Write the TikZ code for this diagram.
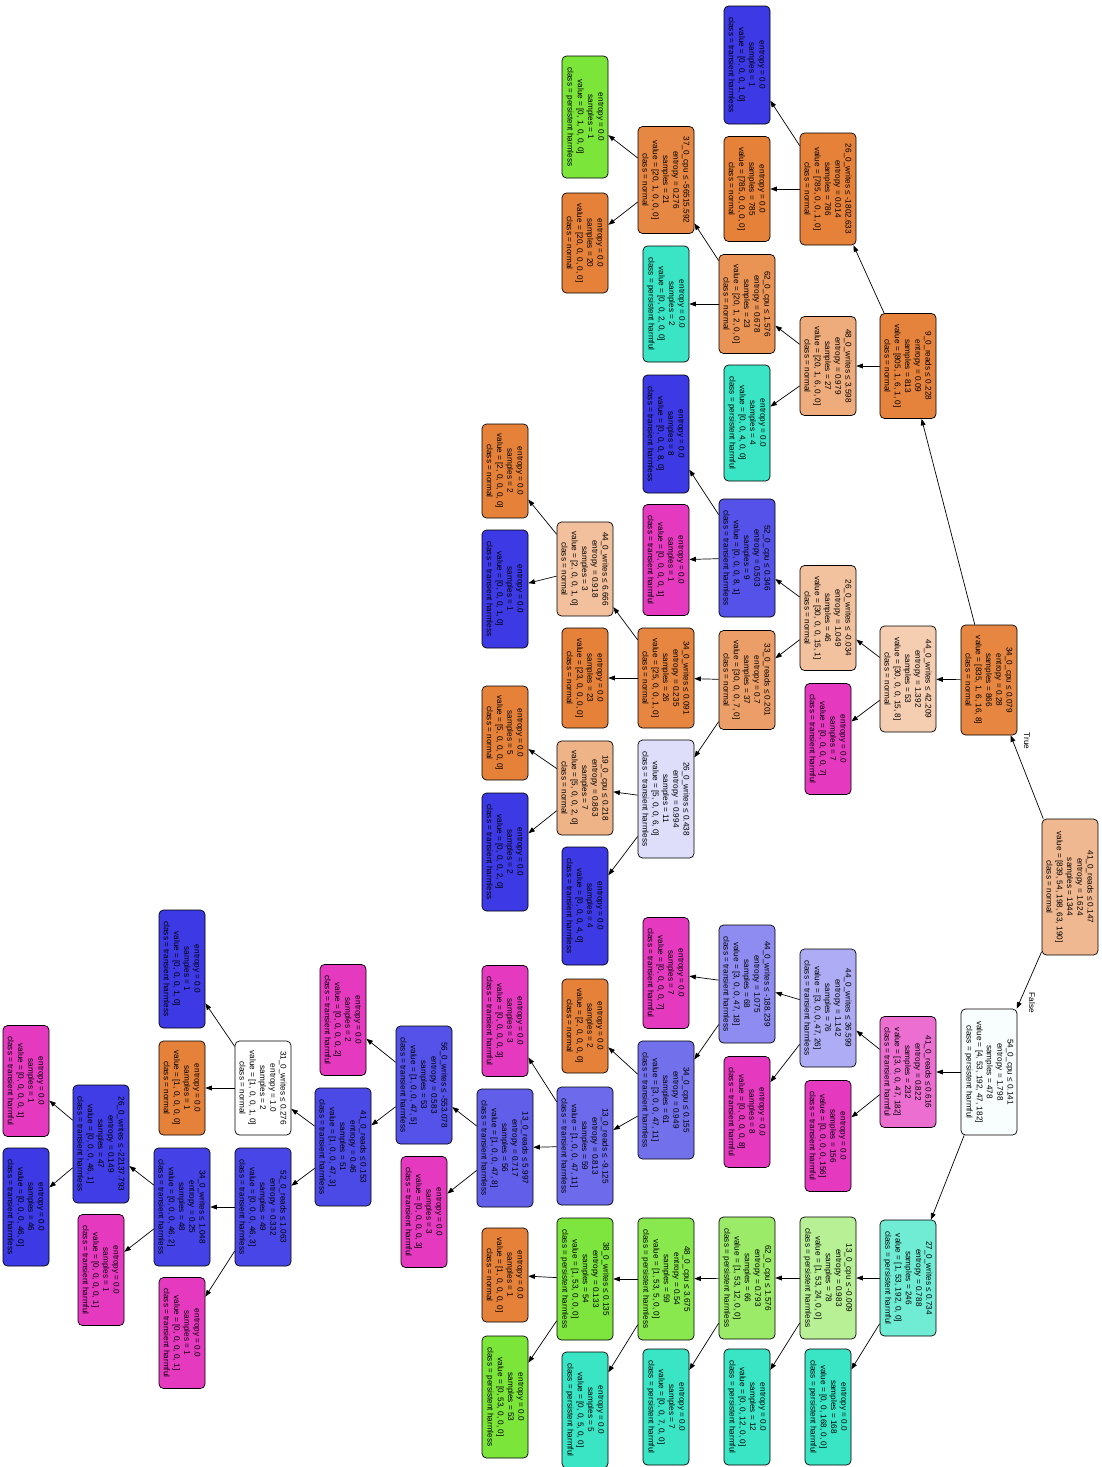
\documentclass[tikz,border=0pt]{standalone}
\usepackage{fontspec}
\newfontfamily\treefont{Liberation Sans}
\usetikzlibrary{arrows.meta}
\definecolor{cN}{RGB}{229,129,57}
\definecolor{cG}{RGB}{123,229,57}
\definecolor{cT}{RGB}{57,229,197}
\definecolor{cB}{RGB}{60,57,229}
\definecolor{cM}{RGB}{229,57,192}
\definecolor{s0}{RGB}{240,184,144}
\definecolor{s1}{RGB}{230,134,64}
\definecolor{s2}{RGB}{248,254,253}
\definecolor{s3}{RGB}{229,130,59}
\definecolor{s4}{RGB}{245,205,177}
\definecolor{s5}{RGB}{236,110,209}
\definecolor{s6}{RGB}{112,236,213}
\definecolor{s7}{RGB}{229,129,57}
\definecolor{s8}{RGB}{238,171,123}
\definecolor{s9}{RGB}{242,194,159}
\definecolor{s11}{RGB}{173,172,244}
\definecolor{s13}{RGB}{184,241,149}
\definecolor{s17}{RGB}{233,147,85}
\definecolor{s19}{RGB}{84,82,232}
\definecolor{s20}{RGB}{235,158,103}
\definecolor{s21}{RGB}{142,140,240}
\definecolor{s23}{RGB}{155,235,105}
\definecolor{s25}{RGB}{230,135,67}
\definecolor{s29}{RGB}{230,134,65}
\definecolor{s30}{RGB}{222,222,251}
\definecolor{s32}{RGB}{115,112,236}
\definecolor{s33}{RGB}{138,232,79}
\definecolor{s37}{RGB}{242,192,156}
\definecolor{s39}{RGB}{239,179,136}
\definecolor{s42}{RGB}{109,106,236}
\definecolor{s43}{RGB}{125,229,61}
\definecolor{s50}{RGB}{97,94,234}
\definecolor{s53}{RGB}{84,82,232}
\definecolor{s56}{RGB}{76,74,231}
\definecolor{s57}{RGB}{255,255,255}
\definecolor{s58}{RGB}{73,70,231}
\definecolor{s61}{RGB}{68,66,230}
\definecolor{s63}{RGB}{64,61,230}
\newcommand{\mksplit}[6]{\node[tn, minimum width=#4pt, fill=#5] (#1) at (#2,#3) {#6};}
\newcommand{\mkleaf}[6]{\node[tl, minimum width=#4pt, fill=#5] (#1) at (#2,#3) {entropy = 0.0\\#6};}
\tikzset{
  tn/.style={draw=black, line width=0.7pt, rounded corners=4.5pt, rotate=-90,
    inner sep=0pt, align=center, minimum height=56pt,
    font={\treefont\fontsize{8.2}{10.25}\selectfont}},
  tl/.style={tn, minimum height=46pt},
  edge/.style={-{Triangle[length=6.5pt,width=4.8pt]}, line width=0.7pt, black},
  elab/.style={rotate=-90, font={\treefont\fontsize{8.2}{10.25}\selectfont}, inner sep=0pt}
}
\begin{document}
\begin{tikzpicture}[x=1pt,y=-1pt]
\fill[white] (0,0) rectangle (1102,1467);
\useasboundingbox (0,0) rectangle (1102,1467);
% depth 0
\mksplit{n0}{1070}{887}{136}{s0}{41\_0\_reads ≤ 0.147\\entropy = 1.624\\samples = 1344\\value = [839, 54, 198, 63, 190]\\class = normal}
% depth 1
\mksplit{n1}{989}{680}{110}{s1}{34\_0\_cpu ≤ 0.079\\entropy = 0.28\\samples = 866\\value = [835, 1, 6, 16, 8]\\class = normal}
\mksplit{n2}{989}{1072}{126}{s2}{54\_0\_cpu ≤ 0.141\\entropy = 1.798\\samples = 478\\value = [4, 53, 192, 47, 182]\\class = persistent harmful}
% depth 2
\mksplit{n3}{908}{366}{105}{s3}{9\_0\_reads ≤ 0.228\\entropy = 0.09\\samples = 813\\value = [805, 1, 6, 1, 0]\\class = normal}
\mksplit{n4}{908}{679}{106}{s4}{44\_0\_writes ≤ 42.209\\entropy = 1.392\\samples = 53\\value = [30, 0, 0, 15, 8]\\class = normal}
\mksplit{n5}{908}{1072}{111}{s5}{41\_0\_reads ≤ 0.616\\entropy = 0.822\\samples = 232\\value = [3, 0, 0, 47, 182]\\class = transient harmful}
\mksplit{n6}{908}{1278}{116}{s6}{27\_0\_writes ≤ 0.734\\entropy = 0.788\\samples = 246\\value = [1, 53, 192, 0, 0]\\class = persistent harmful}
% depth 3
\mksplit{n7}{828}{189}{112}{s7}{26\_0\_writes ≤ -1802.633\\entropy = 0.014\\samples = 786\\value = [785, 0, 0, 1, 0]\\class = normal}
\mksplit{n8}{828}{366}{99}{s8}{48\_0\_writes ≤ 3.598\\entropy = 0.979\\samples = 27\\value = [20, 1, 6, 0, 0]\\class = normal}
\mksplit{n9}{828}{618}{105}{s9}{26\_0\_writes ≤ -0.034\\entropy = 1.049\\samples = 46\\value = [30, 0, 0, 15, 1]\\class = normal}
\mkleaf{n10}{828}{739}{111}{cM}{samples = 7\\value = [0, 0, 0, 0, 7]\\class = transient harmful}
\mksplit{n11}{828}{1008}{118}{s11}{44\_0\_writes ≤ 36.599\\entropy = 1.142\\samples = 76\\value = [3, 0, 0, 47, 26]\\class = transient harmless}
\mkleaf{n12}{828}{1136}{111}{cM}{samples = 156\\value = [0, 0, 0, 0, 156]\\class = transient harmful}
\mksplit{n13}{828}{1278}{122}{s13}{13\_0\_cpu ≤ -0.009\\entropy = 0.983\\samples = 78\\value = [1, 53, 24, 0, 0]\\class = persistent harmless}
\mkleaf{n14}{828}{1407}{116}{cT}{samples = 168\\value = [0, 0, 168, 0, 0]\\class = persistent harmful}
% depth 4
\mkleaf{n15}{747}{65}{118}{cB}{samples = 1\\value = [0, 0, 0, 1, 0]\\class = transient harmless}
\mkleaf{n16}{747}{189}{105}{cN}{samples = 785\\value = [785, 0, 0, 0, 0]\\class = normal}
\mksplit{n17}{747}{304}{99}{s17}{62\_0\_cpu ≤ 1.576\\entropy = 0.678\\samples = 23\\value = [20, 1, 2, 0, 0]\\class = normal}
\mkleaf{n18}{747}{423}{116}{cT}{samples = 4\\value = [0, 0, 4, 0, 0]\\class = persistent harmful}
\mksplit{n19}{747}{558}{118}{s19}{52\_0\_cpu ≤ 0.346\\entropy = 0.503\\samples = 9\\value = [0, 0, 0, 8, 1]\\class = transient harmless}
\mksplit{n20}{747}{680}{99}{s20}{33\_0\_reads ≤ 0.201\\entropy = 0.7\\samples = 37\\value = [30, 0, 0, 7, 0]\\class = normal}
\mksplit{n21}{747}{984}{118}{s21}{44\_0\_writes ≤ -188.239\\entropy = 1.075\\samples = 68\\value = [3, 0, 0, 47, 18]\\class = transient harmless}
\mkleaf{n22}{747}{1112}{111}{cM}{samples = 8\\value = [0, 0, 0, 0, 8]\\class = transient harmful}
\mksplit{n23}{747}{1278}{122}{s23}{62\_0\_cpu ≤ 1.576\\entropy = 0.793\\samples = 66\\value = [1, 53, 12, 0, 0]\\class = persistent harmless}
\mkleaf{n24}{747}{1407}{116}{cT}{samples = 12\\value = [0, 0, 12, 0, 0]\\class = persistent harmful}
% depth 5
\mksplit{n25}{666}{180}{107}{s25}{37\_0\_cpu ≤ -56515.592\\entropy = 0.276\\samples = 21\\value = [20, 1, 0, 0, 0]\\class = normal}
\mkleaf{n26}{666}{304}{116}{cT}{samples = 2\\value = [0, 0, 2, 0, 0]\\class = persistent harmful}
\mkleaf{n27}{666}{434}{118}{cB}{samples = 8\\value = [0, 0, 0, 8, 0]\\class = transient harmless}
\mkleaf{n28}{666}{560}{111}{cM}{samples = 1\\value = [0, 0, 0, 0, 1]\\class = transient harmful}
\mksplit{n29}{666}{678}{100}{s29}{34\_0\_writes ≤ 0.091\\entropy = 0.235\\samples = 26\\value = [25, 0, 0, 1, 0]\\class = normal}
\mksplit{n30}{666}{799}{118}{s30}{26\_0\_writes ≤ 0.438\\entropy = 0.994\\samples = 11\\value = [5, 0, 0, 6, 0]\\class = transient harmless}
\mkleaf{n31}{666}{973}{111}{cM}{samples = 7\\value = [0, 0, 0, 0, 7]\\class = transient harmful}
\mksplit{n32}{666}{1100}{118}{s32}{34\_0\_cpu ≤ 0.155\\entropy = 0.949\\samples = 61\\value = [3, 0, 0, 47, 11]\\class = transient harmless}
\mksplit{n33}{666}{1279}{122}{s33}{48\_0\_cpu ≤ 3.675\\entropy = 0.54\\samples = 59\\value = [1, 53, 5, 0, 0]\\class = persistent harmless}
\mkleaf{n34}{666}{1407}{116}{cT}{samples = 7\\value = [0, 0, 7, 0, 0]\\class = persistent harmful}
% depth 6
\mkleaf{n35}{585}{117}{122}{cG}{samples = 1\\value = [0, 1, 0, 0, 0]\\class = persistent harmless}
\mkleaf{n36}{585}{243}{100}{cN}{samples = 20\\value = [20, 0, 0, 0, 0]\\class = normal}
\mksplit{n37}{585}{569}{94}{s37}{44\_0\_writes ≤ 6.666\\entropy = 0.918\\samples = 3\\value = [2, 0, 0, 1, 0]\\class = normal}
\mkleaf{n38}{585}{678}{100}{cN}{samples = 23\\value = [23, 0, 0, 0, 0]\\class = normal}
\mksplit{n39}{585}{788}{94}{s39}{19\_0\_cpu ≤ 0.218\\entropy = 0.863\\samples = 7\\value = [5, 0, 0, 2, 0]\\class = normal}
\mkleaf{n40}{585}{906}{118}{cB}{samples = 4\\value = [0, 0, 0, 4, 0]\\class = transient harmless}
\mkleaf{n41}{585}{1026}{94}{cN}{samples = 2\\value = [2, 0, 0, 0, 0]\\class = normal}
\mksplit{n42}{585}{1146}{118}{s42}{13\_0\_reads ≤ -9.125\\entropy = 0.813\\samples = 59\\value = [1, 0, 0, 47, 11]\\class = transient harmless}
\mksplit{n43}{585}{1279}{122}{s43}{38\_0\_writes ≤ 0.135\\entropy = 0.133\\samples = 54\\value = [1, 53, 0, 0, 0]\\class = persistent harmless}
\mkleaf{n44}{585}{1410}{116}{cT}{samples = 5\\value = [0, 0, 5, 0, 0]\\class = persistent harmful}
% depth 7
\mkleaf{n45}{505}{471}{94}{cN}{samples = 2\\value = [2, 0, 0, 0, 0]\\class = normal}
\mkleaf{n46}{505}{589}{118}{cB}{samples = 1\\value = [0, 0, 0, 1, 0]\\class = transient harmless}
\mkleaf{n47}{505}{733}{94}{cN}{samples = 5\\value = [5, 0, 0, 0, 0]\\class = normal}
\mkleaf{n48}{505}{852}{118}{cB}{samples = 2\\value = [0, 0, 0, 2, 0]\\class = transient harmless}
\mkleaf{n49}{505}{1021}{111}{cM}{samples = 3\\value = [0, 0, 0, 0, 3]\\class = transient harmful}
\mksplit{n50}{505}{1148}{118}{s50}{13\_0\_reads ≤ 5.997\\entropy = 0.717\\samples = 56\\value = [1, 0, 0, 47, 8]\\class = transient harmless}
\mkleaf{n51}{505}{1275}{94}{cN}{samples = 1\\value = [1, 0, 0, 0, 0]\\class = normal}
\mkleaf{n52}{505}{1397}{122}{cG}{samples = 53\\value = [0, 53, 0, 0, 0]\\class = persistent harmless}
% depth 8
\mksplit{n53}{424}{1085}{118}{s53}{56\_0\_writes ≤ -553.078\\entropy = 0.583\\samples = 53\\value = [1, 0, 0, 47, 5]\\class = transient harmless}
\mkleaf{n54}{424}{1212}{111}{cM}{samples = 3\\value = [0, 0, 0, 0, 3]\\class = transient harmful}
% depth 9
\mkleaf{n55}{343}{1020}{111}{cM}{samples = 2\\value = [0, 0, 0, 0, 2]\\class = transient harmful}
\mksplit{n56}{343}{1147}{118}{s56}{41\_0\_reads ≤ 0.153\\entropy = 0.46\\samples = 51\\value = [1, 0, 0, 47, 3]\\class = transient harmless}
% depth 10
\mksplit{n57}{263}{1088}{94}{s57}{31\_0\_writes ≤ 0.276\\entropy = 1.0\\samples = 2\\value = [1, 0, 0, 1, 0]\\class = normal}
\mksplit{n58}{263}{1207}{118}{s58}{52\_0\_reads ≤ 1.063\\entropy = 0.332\\samples = 49\\value = [0, 0, 0, 46, 3]\\class = transient harmless}
% depth 11
\mkleaf{n59}{182}{969}{118}{cB}{samples = 1\\value = [0, 0, 0, 1, 0]\\class = transient harmless}
\mkleaf{n60}{182}{1088}{94}{cN}{samples = 1\\value = [1, 0, 0, 0, 0]\\class = normal}
\mksplit{n61}{182}{1207}{118}{s61}{34\_0\_writes ≤ 1.048\\entropy = 0.25\\samples = 48\\value = [0, 0, 0, 46, 2]\\class = transient harmless}
\mkleaf{n62}{182}{1333}{111}{cM}{samples = 1\\value = [0, 0, 0, 0, 1]\\class = transient harmful}
% depth 12
\mksplit{n63}{101}{1144}{118}{s63}{26\_0\_writes ≤ -22137.793\\entropy = 0.149\\samples = 47\\value = [0, 0, 0, 46, 1]\\class = transient harmless}
\mkleaf{n64}{101}{1270}{111}{cM}{samples = 1\\value = [0, 0, 0, 0, 1]\\class = transient harmful}
% depth 13
\mkleaf{n65}{26}{1081}{111}{cM}{samples = 1\\value = [0, 0, 0, 0, 1]\\class = transient harmful}
\mkleaf{n66}{26}{1207}{118}{cB}{samples = 46\\value = [0, 0, 0, 46, 0]\\class = transient harmless}
% edges
\foreach \p/\c in {n0/n1,n0/n2,n1/n3,n1/n4,n2/n5,n2/n6,n3/n7,n3/n8,n4/n9,n4/n10,
  n5/n11,n5/n12,n6/n13,n6/n14,n7/n15,n7/n16,n8/n17,n8/n18,n9/n19,n9/n20,
  n11/n21,n11/n22,n13/n23,n13/n24,n17/n25,n17/n26,n19/n27,n19/n28,n20/n29,n20/n30,
  n21/n31,n21/n32,n23/n33,n23/n34,n25/n35,n25/n36,n29/n37,n29/n38,n30/n39,n30/n40,
  n32/n41,n32/n42,n33/n43,n33/n44,n37/n45,n37/n46,n39/n47,n39/n48,n42/n49,n42/n50,
  n43/n51,n43/n52,n50/n53,n50/n54,n53/n55,n53/n56,n56/n57,n56/n58,n57/n59,n57/n60,
  n58/n61,n58/n62,n61/n63,n61/n64,n63/n65,n63/n66}
  {\draw[edge] (\p) -- (\c);}
\node[elab] (lt) at (1027,741) {True};
\node[elab] (lf) at (1032,1003) {False};
\end{tikzpicture}
\end{document}
